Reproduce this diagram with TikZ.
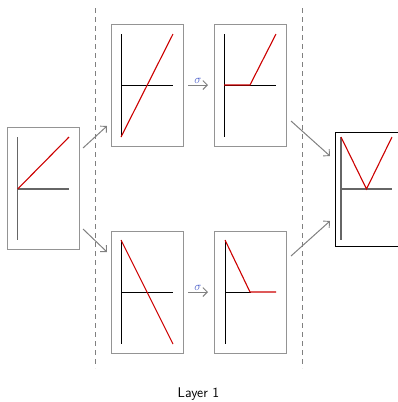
\documentclass[tikz,border=0pt]{standalone}
\usepackage{fontspec}
\usetikzlibrary{arrows.meta}
\begin{document}
\begin{tikzpicture}[x=1pt,y=-1pt,
  panel/.style={draw=black!42,line width=1.8pt,minimum width=72pt,minimum height=122pt,inner sep=0pt},
  outpanel/.style={draw=black,line width=0.8pt,minimum width=72pt,minimum height=114pt,inner sep=0pt},
  axis/.style={black,line width=0.9pt},
  gaxis/.style={black!60,line width=1.1pt},
  curve/.style={red!80!black,line width=1.1pt},
  conn/.style={-{Straight Barb[length=4.5pt,width=9pt,line width=0.9pt]},black!50,line width=1pt},
  sep/.style={black!50,line width=0.8pt,dash pattern=on 5pt off 4pt},
  sig/.style={text={rgb,255:red,70;green,90;blue,200},font=\large,inner sep=0.5pt}]
\useasboundingbox (0,0) rectangle (397,402);
% panels
\node[panel] (in) at (43.5,188.5) {};
\node[panel] (t1) at (147.5,85.5) {};
\node[panel] (t2) at (250.5,85.5) {};
\node[panel] (b1) at (147.5,292.5) {};
\node[panel] (b2) at (250.5,292.5) {};
\node[outpanel] (out) at (371,189) {};
% separators
\coordinate (s1a) at (95.5,8); \coordinate (s1b) at (95.5,368);
\coordinate (s2a) at (302,8); \coordinate (s2b) at (302,368);
\draw[sep] (s1a) -- (s1b);
\draw[sep] (s2a) -- (s2b);
% input plot
\draw[gaxis] (17.7,137) -- (17.7,240);
\draw[gaxis] (17.7,189) -- (69,189);
\draw[curve] (17.7,189) -- (69,137);
% top1
\draw[axis] (121,34) -- (121,137);
\draw[axis] (121,85) -- (173,85);
\draw[curve] (121,137) -- (173,34);
% top2
\draw[axis] (224,34) -- (224,137);
\draw[axis] (224,85) -- (276,85);
\draw[curve] (224,85) -- (250,85) -- (276,34);
% bottom1
\draw[axis] (121,240) -- (121,344);
\draw[axis] (121,292) -- (173,292);
\draw[curve] (121,240) -- (173,344);
% bottom2
\draw[axis] (225,240) -- (225,344);
\draw[axis] (225,292) -- (251,292);
\draw[curve] (225,240) -- (250,292) -- (276,292);
% output plot
\draw[gaxis] (341,137) -- (341,240);
\draw[gaxis] (341,189) -- (392,189);
\draw[curve] (341,137) -- (366.5,189) -- (392,137);
% connectors
\coordinate (a1s) at (83,148); \coordinate (a1e) at (107,126);
\coordinate (a2s) at (83,229); \coordinate (a2e) at (107,252);
\coordinate (a3s) at (291,121); \coordinate (a3e) at (330,156);
\coordinate (a4s) at (291,256); \coordinate (a4e) at (330,221);
\draw[conn] (a1s) -- (a1e);
\draw[conn] (a2s) -- (a2e);
\draw[conn] (a3s) -- (a3e);
\draw[conn] (a4s) -- (a4e);
\coordinate (st1) at (188,85); \coordinate (se1) at (208,85);
\coordinate (st2) at (188,292); \coordinate (se2) at (208,292);
\draw[conn] (st1) -- (se1) node[sig,midway,above=1pt] (sg1) {$\sigma$};
\draw[conn] (st2) -- (se2) node[sig,midway,above=1pt] (sg2) {$\sigma$};
% label
\node[font=\sffamily\fontsize{14}{16}\selectfont,inner sep=0pt] (lbl) at (198.5,394) {Layer 1};
\end{tikzpicture}
\end{document}
